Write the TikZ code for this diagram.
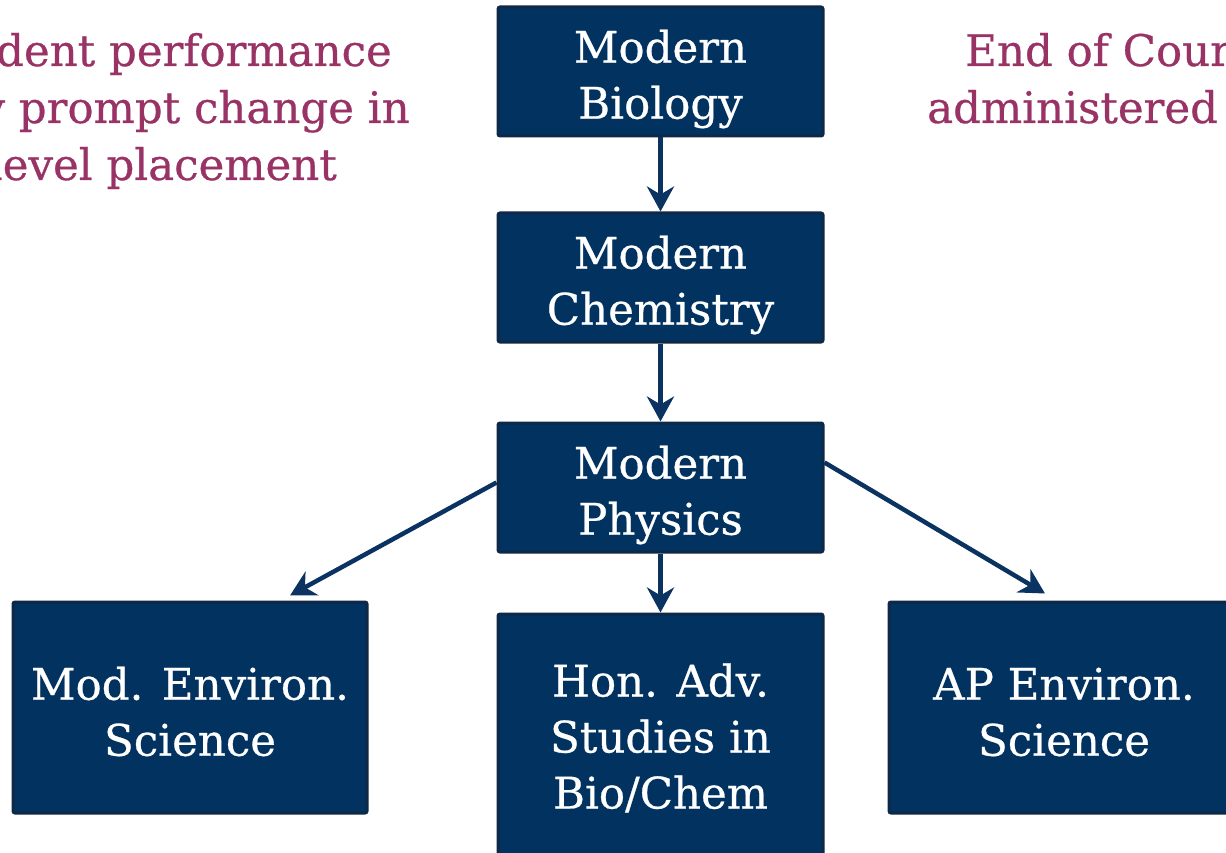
\documentclass[tikz,border=0pt]{standalone}
\usepackage{fontspec}
\setmainfont{DejaVu Serif}[FakeBold=0.6]
\usetikzlibrary{arrows.meta}
\definecolor{boxfill}{HTML}{02325F}
\definecolor{boxline}{HTML}{0E2848}
\definecolor{arrowcol}{HTML}{0A3361}
\definecolor{note}{HTML}{993366}
\newcommand\tstrut[1]{\rule{0pt}{#1}}
\begin{document}
\begin{tikzpicture}[x=1pt,y=-1pt,
  course/.style={draw=boxline, line width=3pt, fill=boxfill, rounded corners=2pt,
    text=white, align=center, inner sep=0pt,
    font=\fontsize{43.5}{56}\selectfont},
  arr/.style={draw=arrowcol, line width=4.5pt,
    -{Stealth[length=25pt,width=27pt,inset=8pt]}},
  notetext/.style={text=note, inner sep=0pt, font=\fontsize{43.5}{56}\selectfont}]
\path[use as bounding box] (0,0) rectangle (1226,853);
\clip (0,0) rectangle (1226,853);
% boxes
\node[course, minimum width=325pt, minimum height=129pt] (b1) at (660.5,71.5) {\tstrut{48pt}Modern\\Biology};
\node[course, minimum width=325pt, minimum height=129pt] (b2) at (660.5,277.5) {\tstrut{48pt}Modern\\Chemistry};
\node[course, minimum width=325pt, minimum height=129pt] (b3) at (660.5,487.5) {\tstrut{48pt}Modern\\Physics};
\node[course, minimum width=354pt, minimum height=211pt] (b4) at (190,707.5) {\tstrut{41pt}Mod. Environ.\\Science};
\node[course, minimum width=325pt, minimum height=248pt] (b5) at (660.5,738) {Hon. Adv.\\Studies in\\Bio/Chem};
\node[course, minimum width=350pt, minimum height=211pt] (b6) at (1064,707.5) {\tstrut{41pt}AP Environ.\\Science};
% connectors
\draw[arr] (b1.south) -- (b2.north);
\draw[arr] (b2.south) -- (b3.north);
\draw[arr] (b3.south) -- (b5.north);
\coordinate (lstart) at ([yshift=5pt]b3.west);
\coordinate (lend) at ([xshift=100pt,yshift=5pt]b4.north);
\coordinate (rstart) at ([yshift=25pt]b3.east);
\coordinate (rend) at ([xshift=-19pt,yshift=7pt]b6.north);
\draw[arr] (lstart) -- (lend);
\draw[arr] (rstart) -- (rend);
% side notes
\node[notetext, anchor=base east] (n1) at (392,66) {Student performance};
\node[notetext, anchor=base east] (n2) at (410,123) {may prompt change in};
\node[notetext, anchor=base east] (n3) at (337,180) {level placement};
\node[notetext, anchor=base west] (n4) at (965,66) {End of Course};
\node[notetext, anchor=base west] (n5) at (927,123) {administered};
\end{tikzpicture}
\end{document}
